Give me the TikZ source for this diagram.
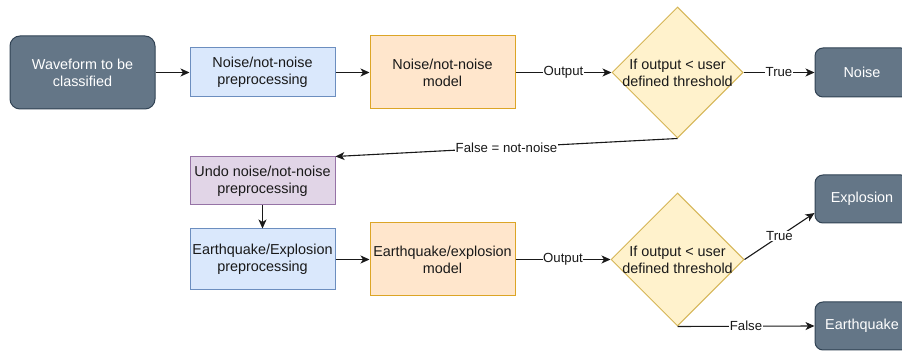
\documentclass[tikz,border=0pt]{standalone}
\usepackage{fontspec}
\setmainfont{Liberation Sans}
\usetikzlibrary{shapes.geometric,arrows.meta}
\definecolor{darkfill}{HTML}{647687}
\definecolor{darkline}{HTML}{314354}
\definecolor{bluefill}{HTML}{DAE8FC}
\definecolor{blueline}{HTML}{6C8EBF}
\definecolor{orfill}{HTML}{FFE6CC}
\definecolor{orline}{HTML}{DCA526}
\definecolor{yelfill}{HTML}{FFF2CC}
\definecolor{yelline}{HTML}{D6B656}
\definecolor{purfill}{HTML}{E1D5E7}
\definecolor{purline}{HTML}{9673A6}
\tikzset{
  base/.style={draw, line width=1pt, inner sep=0pt, align=center,
    font=\fontsize{14.4}{17}\selectfont},
  darkbox/.style={base, fill=darkfill, draw=darkline, text=white, rounded corners=8pt},
  bluebox/.style={base, fill=bluefill, draw=blueline, text=black!90},
  orbox/.style={base, fill=orfill, draw=orline, text=black!90},
  purbox/.style={base, fill=purfill, draw=purline, text=black!90},
  dia/.style={diamond, draw=yelline, fill=yelfill, line width=1pt, inner sep=0pt, aspect=1},
  diatext/.style={inner sep=0pt, align=center, font=\fontsize{14.4}{17}\selectfont, text=black!90},
  conn/.style={line width=1.1pt, -{Stealth[length=9pt,width=8pt,inset=2.5pt]}, black!90},
  lab/.style={fill=white, inner sep=0.5pt, font=\fontsize{13.2}{15}\selectfont, text=black!90}
}
\begin{document}
\begin{tikzpicture}[x=1pt,y=-1pt]
\clip (0,0) rectangle (902,352);
\fill[white] (0,0) rectangle (902,352);
% row 1
\node[darkbox, minimum width=145pt, minimum height=73pt, rounded corners=10pt] (wave) at (82.5,72.5) {Waveform to be\\classified};
\node[bluebox, minimum width=145pt, minimum height=49pt] (prep1) at (262.5,72.5) {Noise/not-noise\\preprocessing};
\node[orbox, minimum width=145pt, minimum height=73pt] (model1) at (442.5,72.5) {Noise/not-noise\\model};
\node[dia, minimum width=131pt, minimum height=131pt] (d1) at (677.5,72.5) {};
\node[diatext] (d1t) at (677.5,72.5) {If output < user\\defined threshold};
\node[darkbox, minimum width=94pt, minimum height=49pt] (noise) at (862,72.5) {Noise};
% row 2
\node[purbox, minimum width=145pt, minimum height=48pt] (undo) at (262.5,181) {Undo noise/not-noise\\preprocessing};
\node[bluebox, minimum width=145pt, minimum height=61pt] (prep2) at (262.5,259.5) {Earthquake/Explosion\\preprocessing};
\node[orbox, minimum width=145pt, minimum height=73pt] (model2) at (442.5,259.5) {Earthquake/explosion\\model};
\node[dia, minimum width=133pt, minimum height=133pt] (d2) at (677.5,259.5) {};
\node[diatext] (d2t) at (677.5,259.5) {If output < user\\defined threshold};
\node[darkbox, minimum width=94pt, minimum height=48pt] (expl) at (862,199) {Explosion};
\node[darkbox, minimum width=94pt, minimum height=48pt] (eq) at (862,326) {Earthquake};
% connectors
\draw[conn] (wave.east) -- (prep1.west);
\draw[conn] (prep1.east) -- (model1.west);
\draw[conn] (model1.east) -- node[lab] {Output} (d1.west);
\draw[conn] (d1.east) -- node[lab] {True} (noise.west);
\draw[conn] (d1.south) -- node[lab] {False = not-noise} (undo.north east);
\draw[conn] (undo.south) -- (prep2.north);
\draw[conn] (prep2.east) -- (model2.west);
\draw[conn] (model2.east) -- node[lab] {Output} (d2.west);
\draw[conn] (d2.east) -- node[lab] {True} ([yshift=-14pt]expl.west);
\draw[conn] (d2.south) -- node[lab] {False} (eq.west);
\end{tikzpicture}
\end{document}
